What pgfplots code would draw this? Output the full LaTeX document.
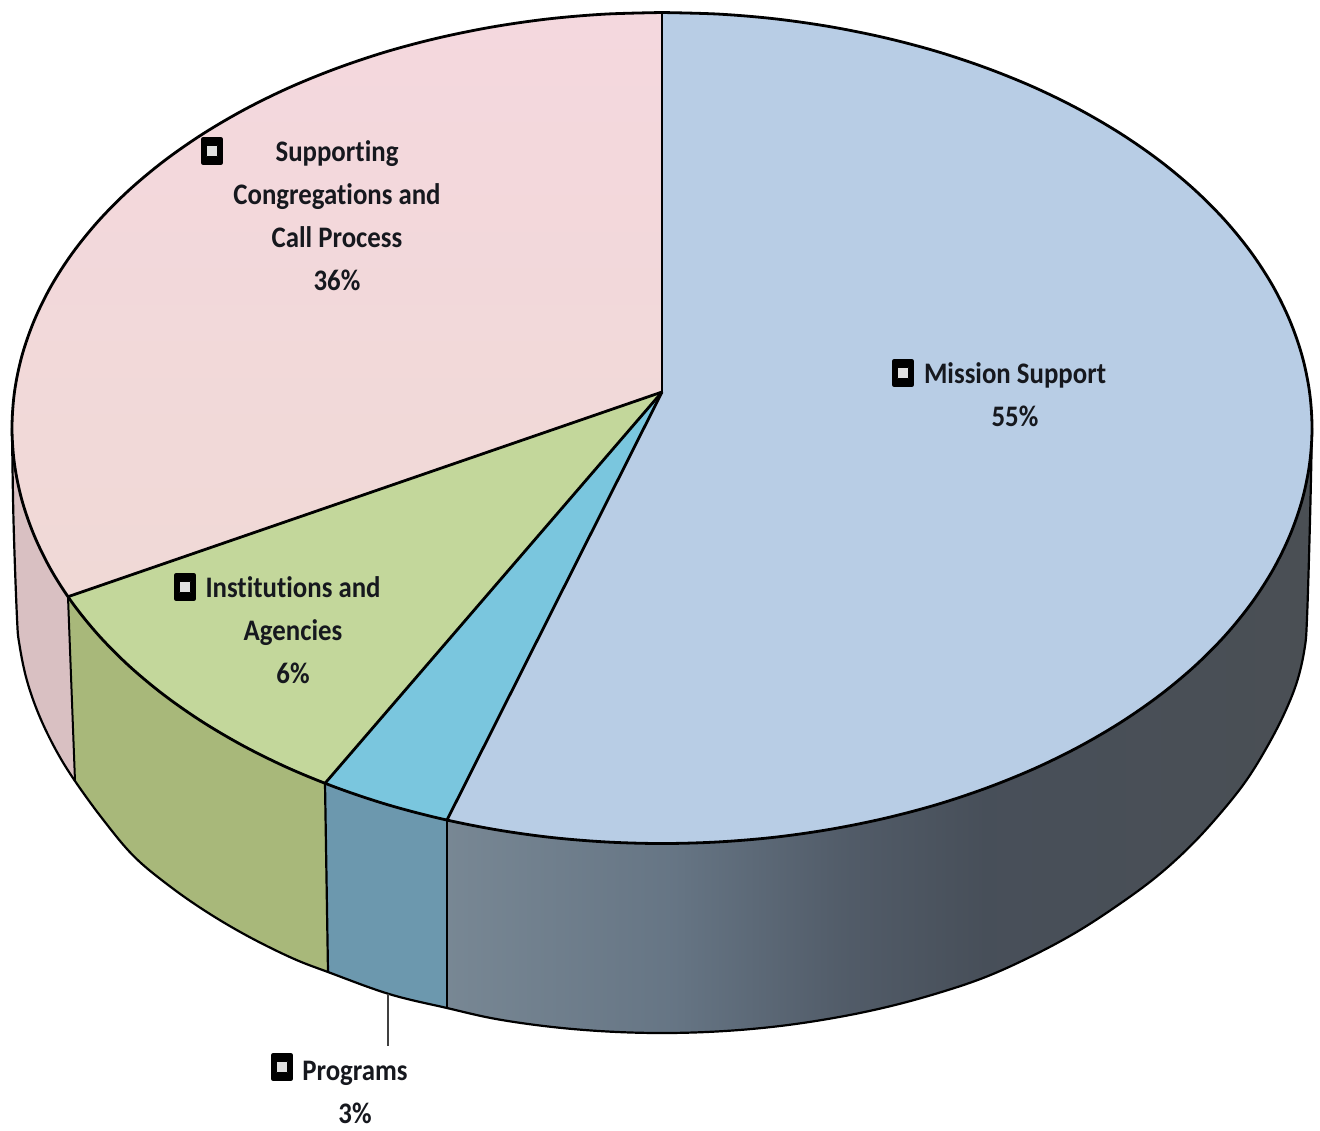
\documentclass[border=0pt]{standalone}
\usepackage{fontspec}
\setmainfont[FakeStretch=0.9,Ligatures=NoCommon]{Carlito}
\usepackage{pgfplots}
\pgfplotsset{compat=1.18}

\definecolor{missiontop}{RGB}{184,205,229}
\definecolor{progtop}{RGB}{122,198,222}
\definecolor{insttop}{RGB}{195,215,155}
\definecolor{supptop}{RGB}{240,217,214}
\definecolor{suppupper}{RGB}{244,216,222}
\definecolor{progside}{RGB}{108,152,174}
\definecolor{instside}{RGB}{168,184,122}
\definecolor{suppside}{RGB}{217,192,194}
\definecolor{labeltext}{RGB}{22,24,30}

% side of the big slice, light on the left and dark from about two thirds on
\pgfdeclarehorizontalshading{missionside}{100bp}{
  rgb(0bp)=(0.47,0.53,0.58);
  rgb(25bp)=(0.47,0.53,0.58);
  rgb(38bp)=(0.40,0.46,0.52);
  rgb(48bp)=(0.32,0.36,0.41);
  rgb(56bp)=(0.28,0.31,0.35);
  rgb(75bp)=(0.29,0.31,0.33);
  rgb(100bp)=(0.29,0.31,0.33)}

\begin{document}
\begin{tikzpicture}
\begin{axis}[
    scale only axis,
    width=660pt, height=565pt,
    xmin=0, xmax=1320,
    ymin=0, ymax=1130,
    y dir=reverse,
    hide axis,
    clip=false,
    every axis plot/.append style={line join=round},
]
% page
\addplot[fill=white, draw=none] coordinates {(0,0)(1320,0)(1320,1130)(0,1130)} --cycle;

% sides
\addplot[draw=none, shading=missionside] coordinates {
  (447,820)(447,1008)(495.1,1018.8)(550,1026.7)(605.8,1031.4)(662,1033)
  (718.2,1031.4)(774,1026.7)(828.9,1018.8)(882.6,1008)(934.6,994.1)(984.5,977.4)
  (1032,956)(1076.6,932)(1118.1,905)(1156.1,877)(1190.4,846)(1220.6,813)
  (1246.6,780)(1268.1,745)(1285,712)(1297.2,681)(1304.5,649)(1307,618)(1312,428)
} --cycle;
\addplot[draw=none, fill=progside] coordinates {
  (325,783.3)(328,972)(389.4,994.1)(447,1008)(447,820)
} --cycle;
\addplot[draw=none, fill=instside] coordinates {
  (68,596.7)(75,781)(103.4,820)(133.6,856)(167.9,884.8)(205.9,911.4)
  (247.4,935.9)(292,958)(328,972)(325,783.3)
} --cycle;
\addplot[draw=none, fill=suppside] coordinates {
  (12,428)(17,618)(19.5,645)(26.8,680)(39,715)(55.9,750)(75,781)(68,596.7)
} --cycle;

% outer edge of the side and its dividers
\addplot[draw=black, line width=1.1pt, smooth, tension=0.6] coordinates {
  (12,428)(13.5,520)(17,618)(19.5,645)(26.8,680)(39,715)(55.9,750)(75,781)(103.4,820)
  (133.6,856)(167.9,884.8)(205.9,911.4)(247.4,935.9)(292,958)(328,972)(389.4,994.1)
  (447,1008)(495.1,1018.8)(550,1026.7)(605.8,1031.4)(662,1033)(718.2,1031.4)(774,1026.7)
  (828.9,1018.8)(882.6,1008)(934.6,994.1)(984.5,977.4)(1032,956)(1076.6,932)(1118.1,905)
  (1156.1,877)(1190.4,846)(1220.6,813)(1246.6,780)(1268.1,745)(1285,712)(1297.2,681)
  (1304.5,649)(1307,618)(1310,520)(1312,428)
};
\addplot[draw=black, line width=1pt] coordinates {(68,596.7)(75,781)};
\addplot[draw=black, line width=1.1pt] coordinates {(325,783.3)(328,972)};
\addplot[draw=black, line width=1.1pt] coordinates {(447,820)(447,1008)};

% top face
\addplot[draw=none, fill=missiontop] coordinates {
  (662,392)(662,12.5)(718.7,14.1)(774.8,18.8)(830.2,26.7)(884.3,37.6)(936.7,51.4)
  (987,68.2)(1034.8,87.6)(1079.8,109.7)(1121.6,134.2)(1159.9,160.9)(1194.5,189.7)
  (1224.9,220.2)(1251.1,252.4)(1272.8,285.9)(1289.8,320.5)(1302.1,355.9)(1309.5,391.8)
  (1312,428)(1309.5,464.2)(1302.1,500.1)(1289.8,535.5)(1272.8,570.1)(1251.1,603.6)
  (1224.9,635.8)(1194.5,666.3)(1159.9,695.1)(1121.6,721.8)(1079.8,746.3)(1034.8,768.4)
  (987,787.8)(936.7,804.6)(884.3,818.4)(830.2,829.3)(774.8,837.2)(718.7,841.9)
  (662,843.5)(605.3,841.9)(549.2,837.2)(493.8,829.3)(447,820)
} --cycle;
\addplot[draw=none, fill=progtop] coordinates {
  (662,392)(447,820)(439.7,818.4)(387.3,804.6)(337,787.8)(325,783.3)
} --cycle;
\addplot[draw=none, fill=insttop] coordinates {
  (662,392)(325,783.3)(289.2,768.4)(244.2,746.3)(202.4,721.8)(164.1,695.1)
  (129.5,666.3)(99.1,635.8)(72.9,603.6)(68,596.7)
} --cycle;
\addplot[draw=none, top color=suppupper, bottom color=supptop] coordinates {
  (662,392)(68,596.7)(51.2,570.1)(34.2,535.5)(21.9,500.1)(14.5,464.2)(12,428)
  (14.5,391.8)(21.9,355.9)(34.2,320.5)(51.2,285.9)(72.9,252.4)(99.1,220.2)
  (129.5,189.7)(164.1,160.9)(202.4,134.2)(244.2,109.7)(289.2,87.6)(337,68.2)
  (387.3,51.4)(439.7,37.6)(493.8,26.7)(549.2,18.8)(605.3,14.1)(662,12.5)
} --cycle;

% rim of the top face and the slice borders
\addplot[draw=black, line width=1.4pt, smooth, tension=0.55] coordinates {
  (662,12.5)(718.7,14.1)(774.8,18.8)(830.2,26.7)(884.3,37.6)(936.7,51.4)
  (987,68.2)(1034.8,87.6)(1079.8,109.7)(1121.6,134.2)(1159.9,160.9)(1194.5,189.7)
  (1224.9,220.2)(1251.1,252.4)(1272.8,285.9)(1289.8,320.5)(1302.1,355.9)(1309.5,391.8)
  (1312,428)(1309.5,464.2)(1302.1,500.1)(1289.8,535.5)(1272.8,570.1)(1251.1,603.6)
  (1224.9,635.8)(1194.5,666.3)(1159.9,695.1)(1121.6,721.8)(1079.8,746.3)(1034.8,768.4)
  (987,787.8)(936.7,804.6)(884.3,818.4)(830.2,829.3)(774.8,837.2)(718.7,841.9)
  (662,843.5)(605.3,841.9)(549.2,837.2)(493.8,829.3)(439.7,818.4)(387.3,804.6)
  (337,787.8)(289.2,768.4)(244.2,746.3)(202.4,721.8)(164.1,695.1)(129.5,666.3)
  (99.1,635.8)(72.9,603.6)(51.2,570.1)(34.2,535.5)(21.9,500.1)(14.5,464.2)(12,428)
  (14.5,391.8)(21.9,355.9)(34.2,320.5)(51.2,285.9)(72.9,252.4)(99.1,220.2)
  (129.5,189.7)(164.1,160.9)(202.4,134.2)(244.2,109.7)(289.2,87.6)(337,68.2)
  (387.3,51.4)(439.7,37.6)(493.8,26.7)(549.2,18.8)(605.3,14.1)(662,12.5)
};
\addplot[draw=black, line width=1.4pt] coordinates {(662,12.5)(662,392)};
\addplot[draw=black, line width=1.4pt] coordinates {(662,392)(447,820)};
\addplot[draw=black, line width=1.4pt] coordinates {(662,392)(325,783.3)};
\addplot[draw=black, line width=1.4pt] coordinates {(662,392)(68,596.7)};

% leader line of the Programs label
\addplot[draw=black!75, line width=0.6pt] coordinates {(388,994)(388,1046)};

% label markers
\addplot[only marks, mark=square*, mark size=5.6pt,
    mark options={black, line width=2.4pt, line join=round, xscale=0.8}]
  coordinates {(212,151)(185,587)(903,373)(282,1067)};
\addplot[only marks, mark=square*, mark size=2.8pt,
    mark options={draw=none, fill=white!88!black}]
  coordinates {(212,151)(185,587)(903,373)(282,1067)};

\tikzset{pielabel/.style={text=labeltext, align=center, inner sep=0pt,
    font=\bfseries\fontsize{14.9}{21.5}\selectfont}}
\node[pielabel] at (axis cs:337,216) {Supporting\\Congregations and\\Call Process\\36\%};
\node[pielabel] at (axis cs:293,630) {Institutions and\\Agencies\\6\%};
\node[pielabel] at (axis cs:1015,395) {Mission Support\\55\%};
\node[pielabel] at (axis cs:355,1092) {Programs\\3\%};
\end{axis}
\end{tikzpicture}
\end{document}
